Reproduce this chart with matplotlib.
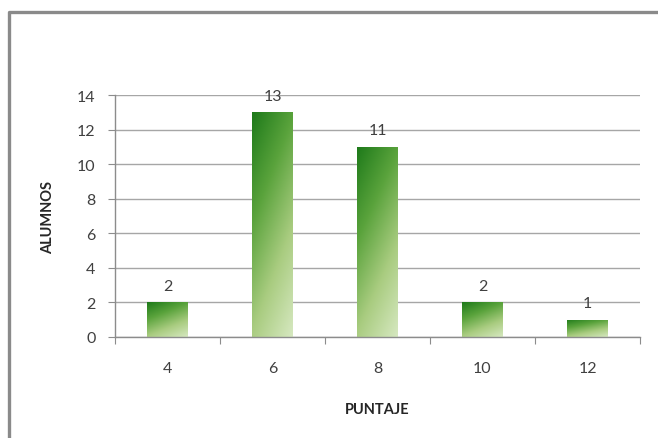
import numpy as np
import matplotlib
matplotlib.use("Agg")
import matplotlib.pyplot as plt
from matplotlib.colors import LinearSegmentedColormap
from matplotlib.lines import Line2D

puntaje = ["4", "6", "8", "10", "12"]
alumnos = [2, 13, 11, 2, 1]

plt.rcParams['font.family'] = ['Lato', 'DejaVu Sans']

W, H = 658, 439
fig = plt.figure(figsize=(W / 100, H / 100), dpi=100)
fig.patch.set_facecolor("white")

ax = fig.add_axes([115 / W, 1 - 338 / H, (640 - 115) / W, (338 - 96) / H])
ax.set_xlim(-0.5, len(puntaje) - 0.5)
ax.set_ylim(0, 14)
ax.set_yticks(range(0, 15, 2))
ax.yaxis.grid(True, color="#a6a6a6", lw=1)
ax.set_axisbelow(True)
for s in ["top", "right"]:
    ax.spines[s].set_visible(False)
for s in ["left", "bottom"]:
    ax.spines[s].set_color("#8c8c8c")
    ax.spines[s].set_linewidth(1)

# category ticks sit between bars
ax.set_xticks(np.arange(-0.5, len(puntaje) + 0.5, 1))
ax.set_xticklabels([])
ax.set_xticks(np.arange(len(puntaje)), minor=True)
ax.set_xticklabels(puntaje, minor=True)
ax.tick_params(axis="x", which="major", length=5, color="#8c8c8c")
ax.tick_params(axis="x", which="minor", length=0, labelsize=11.5,
               labelcolor="#404040", pad=17)
ax.tick_params(axis="y", length=5, color="#8c8c8c", labelsize=11.5,
               labelcolor="#404040", pad=9)

# diagonal green gradient for the bars: dark at top-left, pale at bottom-right
cmap = LinearSegmentedColormap.from_list(
    "verde", ["#1e7a1a", "#5aa33c", "#a9cc80", "#d6e8c0"])
ny, nx = 200, 60
yy, xx = np.mgrid[0:1:ny * 1j, 0:1:nx * 1j]
grad = 0.35 * xx + 0.75 * yy
grad = grad / grad.max()

bw = 0.39
bars = ax.bar(range(len(alumnos)), alumnos, width=bw, color="none",
              edgecolor="none")
for i, (b, v) in enumerate(zip(bars, alumnos)):
    x0 = b.get_x()
    im = ax.imshow(grad, cmap=cmap, extent=(x0, x0 + bw, 0, v),
                   origin="upper", aspect="auto", zorder=2,
                   interpolation="bilinear")
    im.set_clip_path(b)
    ax.text(i, v + 0.55, str(v), ha="center", va="bottom",
            fontsize=11.5, color="#404040")
ax.set_aspect("auto")
ax.set_xlim(-0.5, len(puntaje) - 0.5)
ax.set_ylim(0, 14)

ax.set_ylabel("ALUMNOS", fontsize=10.5, fontweight="bold", color="#262626",
              labelpad=16)
ax.set_xlabel("PUNTAJE", fontsize=10.5, fontweight="bold", color="#262626",
              labelpad=20)

# chart frame
fig.add_artist(Line2D([8.5 / W, 8.5 / W, 1.0], [0.0, 1 - 12.5 / H, 1 - 12.5 / H],
                      transform=fig.transFigure, color="#8a8a8a", lw=2.4))

fig.savefig("out.png", dpi=100)
